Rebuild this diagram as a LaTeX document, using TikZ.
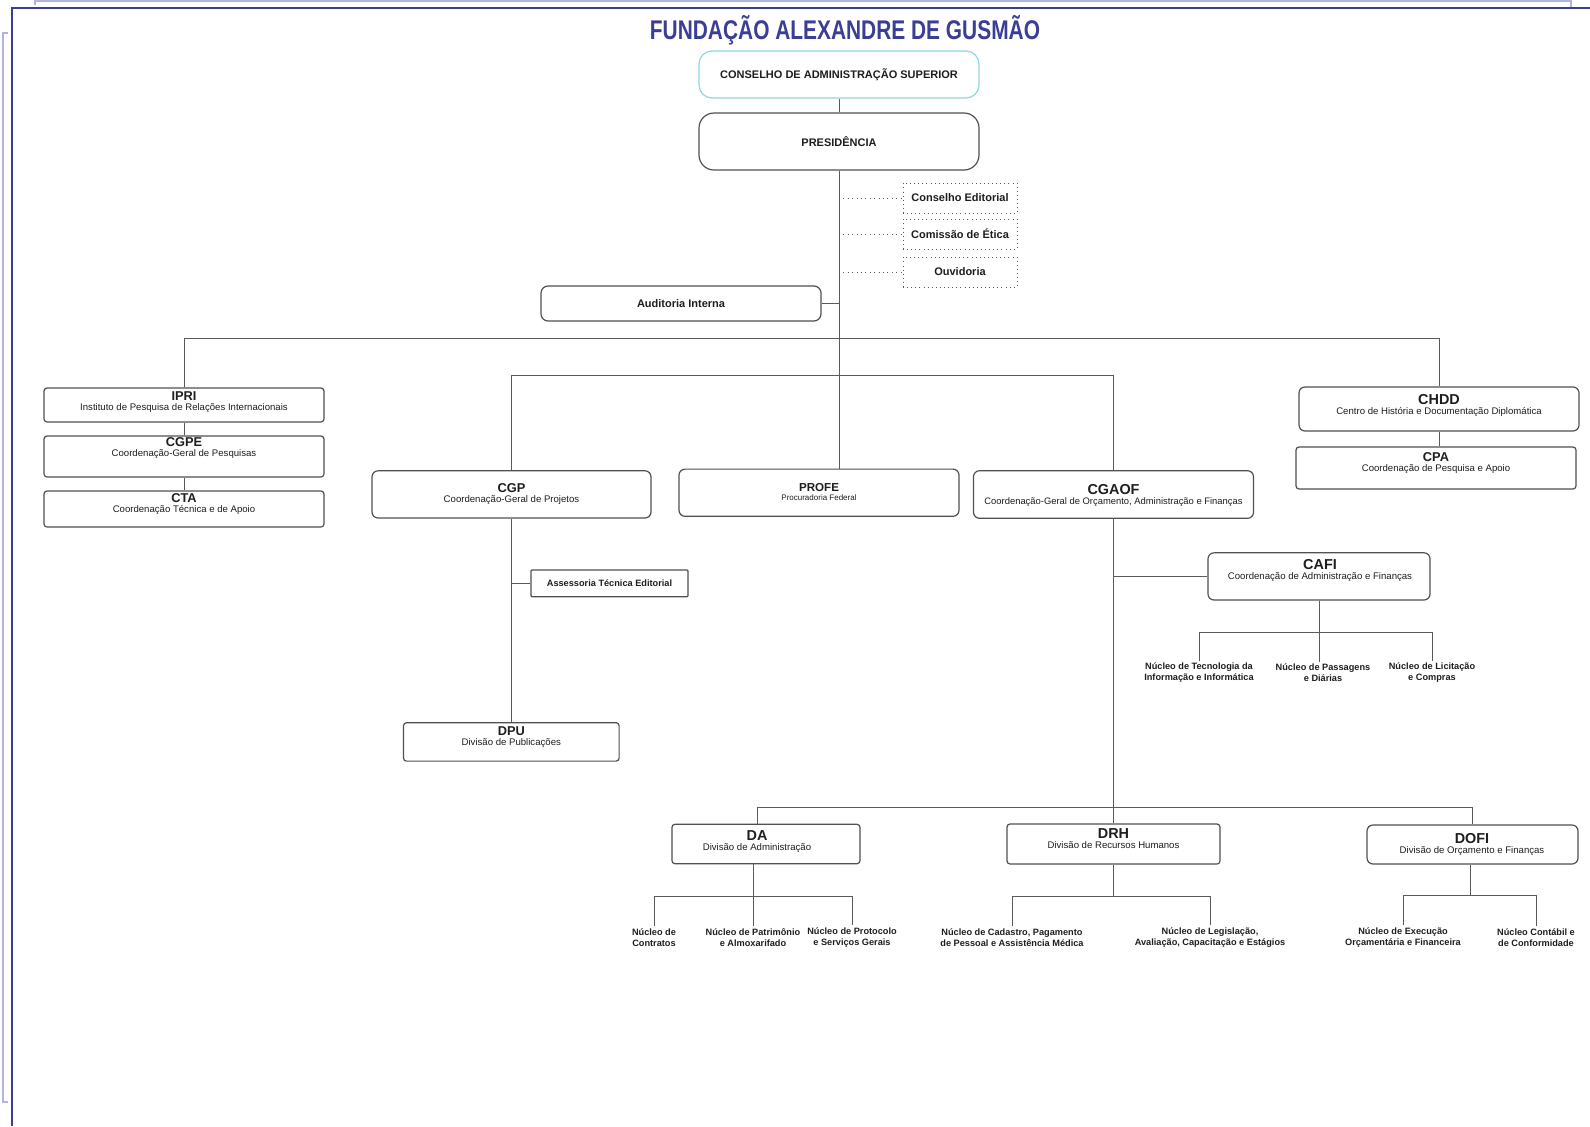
\documentclass[tikz,border=0pt]{standalone}
\usepackage{fontspec}
\setmainfont{Liberation Sans}
\usetikzlibrary{positioning}

\definecolor{tblue}{RGB}{58,62,148}
\definecolor{framelite}{RGB}{176,180,222}
\definecolor{cyanline}{RGB}{140,214,224}
\definecolor{boxline}{RGB}{80,80,80}
\definecolor{linegray}{RGB}{90,90,90}
\definecolor{ink}{RGB}{30,30,30}

\newcommand{\unitname}[1]{{\fontsize{6.4}{6.4}\selectfont\bfseries #1}}
\newcommand{\unitnamebig}[1]{{\fontsize{7.2}{7.2}\selectfont\bfseries #1}}

\tikzset{
  head box/.style={draw=boxline, line width=0.6pt, fill=white, inner sep=0pt,
    text=ink, font=\fontsize{5.5}{6}\selectfont\bfseries},
  aux box/.style={head box, draw=linegray, line width=0.45pt, dash pattern=on 0.45pt off 1.6pt,
    minimum width=57pt, minimum height=15pt},
  unit/.style={draw=boxline, line width=0.6pt, fill=white, inner sep=0pt, rounded corners=1.5pt},
  unit round/.style={unit, rounded corners=3pt},
  unit text/.style={align=center, inner sep=0pt, text=ink, font=\fontsize{4.8}{5}\selectfont},
  nucleo/.style={align=center, inner sep=1pt, text=ink, font=\fontsize{4.6}{5.5}\selectfont\bfseries},
  link/.style={draw=linegray, line width=0.5pt},
  aux link/.style={link, line width=0.4pt, dash pattern=on 0.4pt off 1.8pt}
}

\begin{document}
\begin{tikzpicture}[x=0.5pt, y=-0.5pt]
  \useasboundingbox (0,0) rectangle (1590,1126);
  % page frame
  \draw[framelite, line width=0.6pt] (35,5) -- (35,1) -- (1571,1) -- (1571,7);
  \draw[framelite, line width=0.6pt] (8,33) -- (3,33) -- (3,1102) -- (8,1102);
  \draw[tblue, line width=1pt] (1590,7.5) -- (12,7.5) -- (12,1126);

  \node[text=tblue, font=\fontsize{13.5}{14}\selectfont\bfseries] (title) at (845,30)
    {\scalebox{0.774}[1]{FUNDAÇÃO ALEXANDRE DE GUSMÃO}};

  % top of the chart
  \node[head box, draw=cyanline, rounded corners=6.5pt, minimum width=140pt, minimum height=23.5pt]
    (cas) at (839,74.5) {CONSELHO DE ADMINISTRAÇÃO SUPERIOR};
  \node[head box, rounded corners=7.5pt, minimum width=140pt, minimum height=28.5pt]
    (pres) at (839,141.5) {PRESIDÊNCIA};
  \node[aux box] (ced) at (960,198) {Conselho Editorial};
  \node[aux box] (cet) at (960,234) {Comissão de Ética};
  \node[aux box] (ouv) at (960,272) {Ouvidoria};
  \node[head box, rounded corners=3.5pt, minimum width=140pt, minimum height=17.5pt]
    (aud) at (681,303.5) {Auditoria Interna};

  % left column
  \node[unit, minimum width=140pt, minimum height=17pt] (ipri) at (184,405) {};
  \node[unit text] (ipri-t) at (184,402.5) {\unitname{IPRI}\\Instituto de Pesquisa de Relações Internacionais};
  \node[unit, minimum width=140pt, minimum height=20.5pt] (cgpe) at (184,456.5) {};
  \node[unit text] (cgpe-t) at (184,448.5) {\unitname{CGPE}\\Coordenação-Geral de Pesquisas};
  \node[unit, minimum width=140pt, minimum height=18pt] (cta) at (184,509) {};
  \node[unit text] (cta-t) at (184,504) {\unitname{CTA}\\Coordenação Técnica e de Apoio};

  % right column
  \node[unit round, minimum width=140pt, minimum height=22pt] (chdd) at (1439,409) {};
  \node[unit text] (chdd-t) at (1439,405.5) {\unitnamebig{CHDD}\\Centro de História e Documentação Diplomática};
  \node[unit, minimum width=140pt, minimum height=21pt] (cpa) at (1436,468) {};
  \node[unit text] (cpa-t) at (1436,463.5) {\unitname{CPA}\\Coordenação de Pesquisa e Apoio};

  % middle row
  \node[unit round, minimum width=139.5pt, minimum height=23.6pt] (cgp) at (511.5,494.4) {};
  \node[unit text] (cgp-t) at (511.5,493.7) {\unitname{CGP}\\Coordenação-Geral de Projetos};
  \node[unit round, minimum width=140pt, minimum height=23.6pt] (profe) at (819,492.7) {};
  \node[unit text, font=\fontsize{4}{4.4}\selectfont] (profe-t) at (819,492)
    {{\fontsize{5.8}{5.8}\selectfont\bfseries PROFE}\\Procuradoria Federal};
  \node[unit round, minimum width=140pt, minimum height=23.8pt] (cgaof) at (1113.5,494.5) {};
  \node[unit text, font=\fontsize{4.7}{5}\selectfont] (cgaof-t) at (1113.5,495)
    {\unitnamebig{CGAOF}\\Coordenação-Geral de Orçamento, Administração e Finanças};

  \node[unit, rounded corners=0.5pt, minimum width=78.5pt, minimum height=13.4pt,
    font=\fontsize{4.6}{5}\selectfont\bfseries, text=ink] (ate) at (609.5,583.4) {Assessoria Técnica Editorial};
  \node[unit, minimum width=107.8pt, minimum height=19.2pt] (dpu) at (511.3,741.9) {};
  \node[unit text] (dpu-t) at (511.3,737.5) {\unitname{DPU}\\Divisão de Publicações};

  \node[unit round, minimum width=111pt, minimum height=23.6pt] (cafi) at (1319,576.4) {};
  \node[unit text] (cafi-t) at (1320,570.5) {\unitnamebig{CAFI}\\Coordenação de Administração e Finanças};
  \node[nucleo] (nti) at (1199,673) {Núcleo de Tecnologia da\\Informação e Informática};
  \node[nucleo] (npd) at (1323,673) {Núcleo de Passagens\\e Diárias};
  \node[nucleo] (nlc) at (1432,673) {Núcleo de Licitação\\e Compras};

  % divisions
  \node[unit, minimum width=94pt, minimum height=19.7pt] (da) at (766,844) {};
  \node[unit text] (da-t) at (757,842) {\unitnamebig{DA}\\Divisão de Administração};
  \node[unit, minimum width=106.5pt, minimum height=20pt] (drh) at (1113.5,844) {};
  \node[unit text] (drh-t) at (1113.5,838.8) {\unitnamebig{DRH}\\Divisão de Recursos Humanos};
  \node[unit round, minimum width=105.5pt, minimum height=19.5pt] (dofi) at (1472.5,844.5) {};
  \node[unit text] (dofi-t) at (1472,844) {\unitnamebig{DOFI}\\Divisão de Orçamento e Finanças};

  \node[nucleo] (nct) at (654,937.5) {Núcleo de\\Contratos};
  \node[nucleo] (npa) at (753,937.5) {Núcleo de Patrimônio\\e Almoxarifado};
  \node[nucleo] (npr) at (852,937.5) {Núcleo de Protocolo\\e Serviços Gerais};
  \node[nucleo] (ncp) at (1012,937.5) {Núcleo de Cadastro, Pagamento\\de Pessoal e Assistência Médica};
  \node[nucleo] (nle) at (1210,937.5) {Núcleo de Legislação,\\Avaliação, Capacitação e Estágios};
  \node[nucleo] (nex) at (1403,937.5) {Núcleo de Execução\\Orçamentária e Financeira};
  \node[nucleo] (ncf) at (1536,937.5) {Núcleo Contábil e\\de Conformidade};

  % junctions
  \coordinate (top-bar) at (839,338);
  \coordinate (mid-bar) at (839,375);
  \coordinate (cafi-bar) at (1319,632);
  \coordinate (div-bar) at (757,807);
  \coordinate (da-bar) at (753,896);
  \coordinate (drh-bar) at (1113.5,896);
  \coordinate (dofi-bar) at (1470,895);

  % connectors
  \draw[link] (cas) -- (pres);
  \draw[link] (pres.south) -- (pres.south |- profe.north);
  \draw[aux link] (pres.south |- ced.west) -- (ced.west);
  \draw[aux link] (pres.south |- cet.west) -- (cet.west);
  \draw[aux link] (pres.south |- ouv.west) -- (ouv.west);
  \draw[link] (aud.east) -- (pres.south |- aud.east);
  \draw[link] (ipri.north) |- (top-bar) -| (chdd.north);
  \draw[link] (cgp.north) |- (mid-bar) -| (cgaof.north);
  \draw[link] (ipri.south) -- (cgpe.north);
  \draw[link] (cgpe.south) -- (cta.north);
  \draw[link] (chdd.south) -- (chdd.south |- cpa.north);
  \draw[link] (cgp.south) -- (cgp.south |- dpu.north);
  \draw[link] (ate.west) -- (cgp.south |- ate.west);
  \draw[link] (cgaof.south) -- (cgaof.south |- drh.north);
  \draw[link] (cafi.west) -- (cgaof.south |- cafi.west);
  \draw[link] (cafi.south) -- (cafi-bar);
  \draw[link] (nti.north) |- (cafi-bar) -| (nlc.north);
  \draw[link] (cafi-bar) -- (cafi-bar |- npd.north);
  \draw[link] (div-bar |- da.north) -- (div-bar) -| (dofi.north);
  \draw[link] (da-bar |- da.south) -- (da-bar);
  \draw[link] (nct.north) |- (da-bar) -| (npr.north);
  \draw[link] (da-bar) -- (da-bar |- npa.north);
  \draw[link] (drh.south) -- (drh-bar);
  \draw[link] (ncp.north) |- (drh-bar) -| (nle.north);
  \draw[link] (dofi-bar |- dofi.south) -- (dofi-bar);
  \draw[link] (nex.north) |- (dofi-bar) -| (ncf.north);
\end{tikzpicture}
\end{document}
